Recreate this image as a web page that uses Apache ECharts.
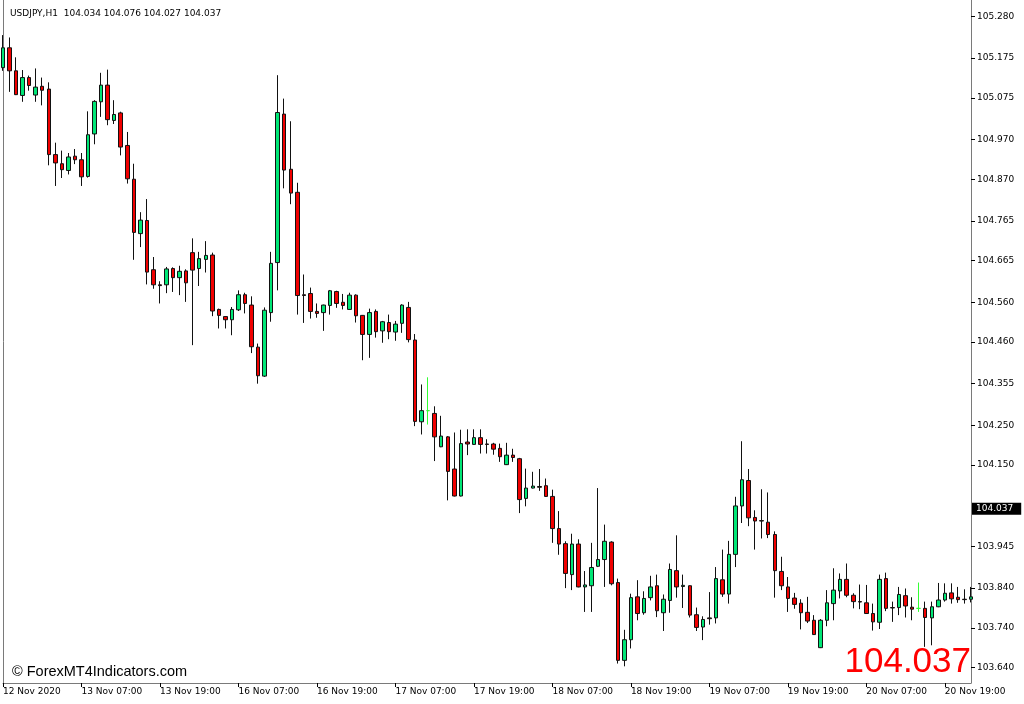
<!DOCTYPE html>
<html>
<head>
<meta charset="utf-8">
<script src="https://cdn.jsdelivr.net/npm/echarts@6/dist/echarts.min.js"></script>
<style>
html,body{margin:0;padding:0;background:#fff;}
#chart{width:1024px;height:704px;}
</style>
</head>
<body>
<div id="chart"></div>
<script>
// Trading sessions (day, first hour, last hour) -> H1 categories
const sessions = [['12 Nov',19,23],['13 Nov',0,23],['16 Nov',0,23],['17 Nov',0,23],['18 Nov',0,23],['19 Nov',0,23],['20 Nov',0,23]];
const firstLabel = '12 Nov 2020';
const headerText = 'USDJPY,H1  104.034 104.076 104.027 104.037';
const lastPrice = 104.037;
const yTickValues = [103.640,103.740,103.840,103.945,104.150,104.250,104.355,104.460,104.560,104.665,104.765,104.870,104.970,105.075,105.175,105.280];

const opens = [105.151,105.201,105.143,105.081,105.126,105.082,105.104,105.097,104.932,104.909,104.892,104.928,104.919,104.877,104.984,105.065,105.107,105.018,105.037,104.955,
104.870,104.733,104.766,104.642,104.604,104.604,104.645,104.622,104.639,104.685,104.645,104.668,104.679,104.542,104.524,104.516,104.541,104.579,104.553,104.447,
104.374,104.534,104.660,105.034,104.895,104.837,104.579,104.582,104.537,104.534,104.552,104.587,104.560,104.542,104.578,104.527,104.479,104.537,104.488,104.509,
104.485,104.507,104.547,104.465,104.259,104.287,104.280,104.196,104.221,104.140,104.072,104.208,104.202,104.219,104.203,104.203,104.192,104.151,104.175,104.166,
104.066,104.092,104.096,104.098,104.071,103.990,103.952,103.874,103.951,103.843,103.846,103.895,103.912,103.956,103.854,103.658,103.710,103.818,103.778,103.816,
103.846,103.778,103.809,103.884,103.844,103.846,103.773,103.742,103.765,103.765,103.861,103.825,103.925,104.047,104.111,104.018,104.010,104.006,103.975,103.882,
103.843,103.815,103.802,103.779,103.759,103.690,103.759,103.801,103.833,103.862,103.822,103.806,103.803,103.776,103.754,103.864,103.791,103.791,103.821,103.792,
103.789,103.789,103.765,103.793,103.810,103.828,103.817,103.812,103.812];
const highs = [105.233,105.227,105.177,105.145,105.131,105.149,105.126,105.114,104.962,104.942,104.936,104.946,104.936,105.041,105.069,105.138,105.146,105.069,105.040,104.989,
104.909,104.787,104.820,104.674,104.613,104.649,104.648,104.652,104.643,104.721,104.687,104.714,104.685,104.544,104.525,104.548,104.590,104.584,104.575,104.456,
104.547,104.687,105.132,105.073,105.016,104.861,104.630,104.597,104.557,104.554,104.591,104.589,104.581,104.584,104.580,104.528,104.544,104.542,104.513,104.529,
104.513,104.555,104.561,104.480,104.353,104.371,104.298,104.274,104.223,104.232,104.239,104.240,104.240,104.240,104.215,104.206,104.204,104.206,104.191,104.168,
104.141,104.133,104.140,104.116,104.088,104.034,103.958,103.977,103.963,103.883,103.954,104.092,104.000,103.958,103.864,103.735,103.826,103.860,103.832,103.871,
103.874,103.824,103.902,103.973,103.874,103.847,103.791,103.769,103.830,103.893,103.937,103.959,104.070,104.210,104.140,104.036,104.089,104.081,103.983,103.919,
103.868,103.828,103.812,103.818,103.772,103.762,103.835,103.890,103.877,103.902,103.827,103.849,103.848,103.801,103.874,103.879,103.806,103.843,103.839,103.817,
103.854,103.806,103.806,103.853,103.852,103.852,103.843,103.837,103.843];
const lows = [105.143,105.090,105.082,105.065,105.093,105.065,105.056,104.905,104.853,104.873,104.882,104.908,104.853,104.874,104.958,105.027,105.006,105.009,104.930,104.859,
104.667,104.699,104.605,104.594,104.557,104.583,104.586,104.578,104.561,104.452,104.601,104.635,104.525,104.494,104.494,104.477,104.538,104.532,104.432,104.355,
104.372,104.511,104.590,104.847,104.807,104.529,104.508,104.519,104.521,104.488,104.529,104.546,104.542,104.541,104.509,104.414,104.420,104.471,104.458,104.467,
104.463,104.483,104.459,104.248,104.227,104.252,104.160,104.195,104.061,104.071,104.071,104.175,104.201,104.179,104.179,104.176,104.158,104.150,104.158,104.029,
104.046,104.091,104.085,104.070,103.954,103.924,103.840,103.835,103.842,103.780,103.780,103.893,103.843,103.847,103.650,103.643,103.688,103.759,103.773,103.809,
103.767,103.732,103.778,103.816,103.790,103.766,103.732,103.709,103.748,103.751,103.818,103.801,103.893,104.004,103.996,103.937,103.965,103.966,103.816,103.835,
103.780,103.788,103.736,103.752,103.722,103.689,103.744,103.759,103.814,103.817,103.789,103.787,103.775,103.733,103.737,103.782,103.755,103.772,103.766,103.759,
103.780,103.692,103.696,103.792,103.806,103.801,103.803,103.801,103.804];
const closes = [105.201,105.143,105.083,105.126,105.106,105.102,105.094,104.932,104.911,104.894,104.926,104.919,104.876,104.982,105.066,105.107,105.020,105.033,104.951,104.871,
104.736,104.767,104.636,104.604,104.602,104.644,104.622,104.638,104.609,104.641,104.670,104.678,104.538,104.527,104.516,104.542,104.579,104.557,104.448,104.375,
104.540,104.658,105.038,104.893,104.835,104.577,104.577,104.537,104.532,104.553,104.589,104.557,104.552,104.578,104.526,104.479,104.534,104.486,104.511,104.486,
104.505,104.553,104.466,104.260,104.287,104.287,104.221,104.223,104.134,104.072,104.204,104.203,104.219,104.202,104.202,104.190,104.171,104.175,104.169,104.063,
104.092,104.097,104.094,104.071,103.990,103.951,103.877,103.951,103.843,103.848,103.892,103.912,103.958,103.851,103.658,103.710,103.816,103.776,103.814,103.843,
103.783,103.812,103.887,103.843,103.847,103.772,103.741,103.761,103.763,103.864,103.825,103.925,104.047,104.113,104.017,104.009,104.009,103.975,103.884,103.846,
103.814,103.799,103.778,103.757,103.723,103.759,103.803,103.835,103.862,103.822,103.806,103.805,103.776,103.755,103.862,103.789,103.790,103.824,103.795,103.787,
103.789,103.766,103.793,103.810,103.827,103.813,103.811,103.811,103.818];

const categories = [];
sessions.forEach(function (s) {
  for (let h = s[1]; h <= s[2]; h++) categories.push(s[0] + ' ' + (h < 10 ? '0' : '') + h + ':00');
});
const candles = opens.map(function (o, i) { return [o, closes[i], lows[i], highs[i]]; });

const chart = echarts.init(document.getElementById('chart'), null, {renderer: 'canvas'});
const frame = '#7a7a7a';
const smallFont = 'DejaVu Sans';
const every12 = function (idx) { return idx % 12 === 0; };

chart.setOption({
  animation: false,
  backgroundColor: '#ffffff',
  title: {
    text: headerText, left: 5, top: 4,
    textStyle: {fontSize: 9, fontWeight: 'normal', color: '#000', fontFamily: smallFont}
  },
  grid: {left: 2, right: 53, top: 0, bottom: 21},
  xAxis: {
    type: 'category', data: categories, boundaryGap: false,
    axisLine: {show: true, lineStyle: {color: frame, width: 1}},
    axisTick: {show: true, interval: every12, length: 4, lineStyle: {color: '#000'}},
    axisLabel: {
      interval: every12, align: 'left', margin: 4, fontSize: 9, color: '#000', fontFamily: smallFont,
      formatter: function (v, idx) { return idx === 0 ? firstLabel : v; }
    },
    splitLine: {show: false}
  },
  yAxis: [{
    type: 'value', position: 'right', min: 103.601, max: 105.3214, scale: true,
    axisLine: {show: true, lineStyle: {color: frame, width: 1}},
    axisTick: {show: true, length: 4, customValues: yTickValues, lineStyle: {color: '#000'}},
    axisLabel: {
      customValues: yTickValues, margin: 6, fontSize: 9, color: '#000', fontFamily: smallFont,
      formatter: function (v) { return v.toFixed(3); }
    },
    splitLine: {show: false}
  }, {
    type: 'value', position: 'left', min: 103.601, max: 105.3214,
    axisLine: {show: true, onZero: false, lineStyle: {color: frame, width: 1}},
    axisTick: {show: false}, axisLabel: {show: false}, splitLine: {show: false}
  }],
  series: [{
    type: 'candlestick',
    data: candles,
    barWidth: 4,
    itemStyle: {
      color: '#00E676', color0: '#F00000',
      borderColor: '#111', borderColor0: '#111', borderColorDoji: '#33FF33', borderWidth: 1
    },
    markLine: {
      silent: true, symbol: ['none', 'none'],
      lineStyle: {color: 'rgba(0,0,0,0)', width: 0, type: 'solid'},
      label: {
        show: true, position: 'end', distance: 1, opacity: 1,
        formatter: lastPrice.toFixed(3),
        backgroundColor: '#000', color: '#fff', fontSize: 9, fontFamily: smallFont,
        padding: [2, 8, 1, 4]
      },
      data: [{yAxis: lastPrice}]
    }
  }],
  graphic: [{
    type: 'text', left: 12, top: 664,
    style: {text: '\u00A9 ForexMT4Indicators.com', fill: '#000', font: '14.5px "Liberation Sans", Arial, sans-serif'}
  }, {
    type: 'text', right: 53, top: 645,
    style: {text: lastPrice.toFixed(3), fill: '#FF0000', font: '35px "Liberation Sans", Arial, sans-serif'}
  }]
});
</script>
</body>
</html>
